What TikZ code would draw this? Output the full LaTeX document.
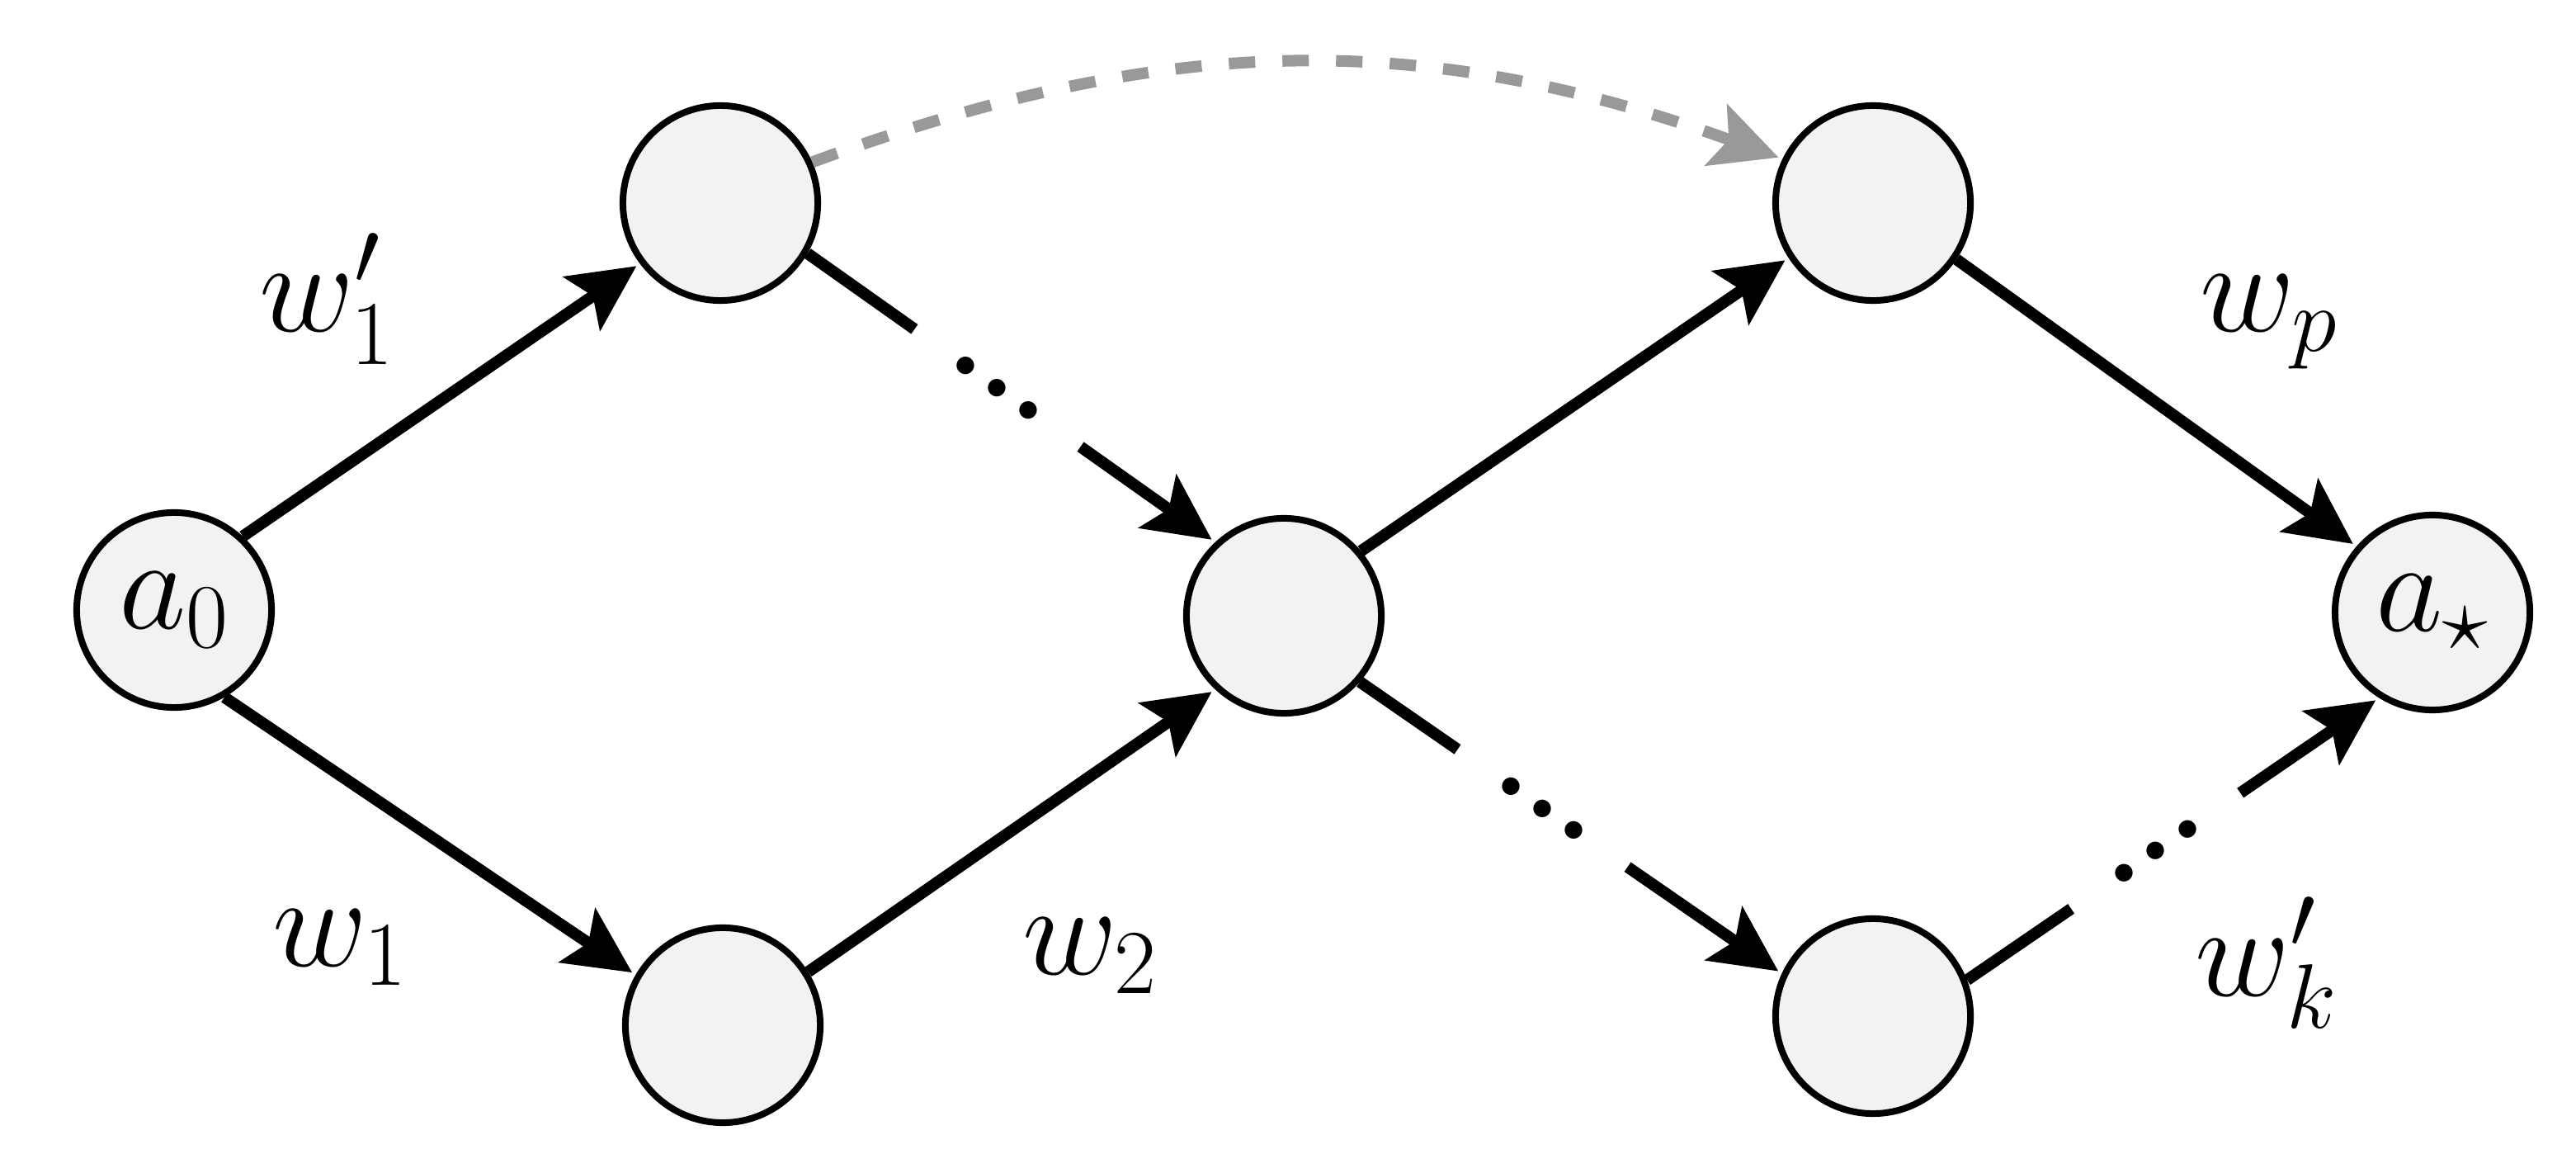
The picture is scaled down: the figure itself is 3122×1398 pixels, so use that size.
\RequirePackage{fix-cm}
\documentclass[tikz,border=0pt]{standalone}
\usetikzlibrary{arrows.meta}
\definecolor{nodefill}{HTML}{F2F2F2}
\definecolor{skipgray}{HTML}{999999}
\newcommand{\dotrow}{\raisebox{-0.075em}{\bfseries ...}}
\begin{document}
\begin{tikzpicture}[x=0.01cm,y=-0.01cm,
  state/.style={circle, draw=black, fill=nodefill, line width=0.08cm,
    minimum size=2.36cm, inner sep=0pt, font=\fontsize{45}{54}\selectfont},
  arr/.style={line width=0.14cm,
    -{Stealth[length=0.8cm,width=0.78cm,inset=0.16cm]}, shorten >=0.05cm},
  skiparrow/.style={arr, draw=skipgray, dash pattern=on 0.32cm off 0.33cm},
  dotgap/.style={sloped, fill=white, inner sep=0pt, minimum width=#1,
    minimum height=0.5cm, text height=0.1cm, text depth=0.1cm,
    font=\fontsize{42}{46}\selectfont},
  lbl/.style={anchor=base west, inner sep=0pt, font=\fontsize{45}{54}\selectfont}]
\useasboundingbox (0,0) rectangle (3122,1398);

\node[state] (a0) at (211,739) {$a_0$};
\node[state] (t1) at (873,246) {};
\node[state] (b1) at (876,1242) {};
\node[state] (m)  at (1556,746) {};
\node[state] (t2) at (2270,246) {};
\node[state] (b2) at (2270,1231) {};
\node[state] (as) at (2948,742) {$a_\star$};

\draw[arr] (a0.47) -- (t1.217);
\draw[arr] (a0.-60) -- (b1.150);
\draw[arr] (b1.32) -- (m.227);
\draw[arr] (t1.-30) -- node[dotgap=2.46cm, pos=0.466] (g1) {\dotrow} (m.133);
\draw[arr] (m.40) -- (t2.213);
\draw[arr] (m.-41) -- node[dotgap=2.5cm, pos=0.433] (g2) {\dotrow} (b2.155);
\draw[arr] (t2.-34) -- (as.139);
\draw[arr] (b2.21) -- node[dotgap=2.48cm, pos=0.458] (g3) {\dotrow} (as.238);
\draw[skiparrow] (t1.24) to[bend left=20] (t2.154);

\node[lbl] (l1) at (314,402) {$w'_1$};
\node[lbl] (l2) at (330,1170) {$w_1$};
\node[lbl] (l3) at (1239,1180) {$w_2$};
\node[lbl] (l4) at (2666,402) {$w_p$};
\node[lbl] (l5) at (2660,1206) {$w'_k$};
\end{tikzpicture}
\end{document}
